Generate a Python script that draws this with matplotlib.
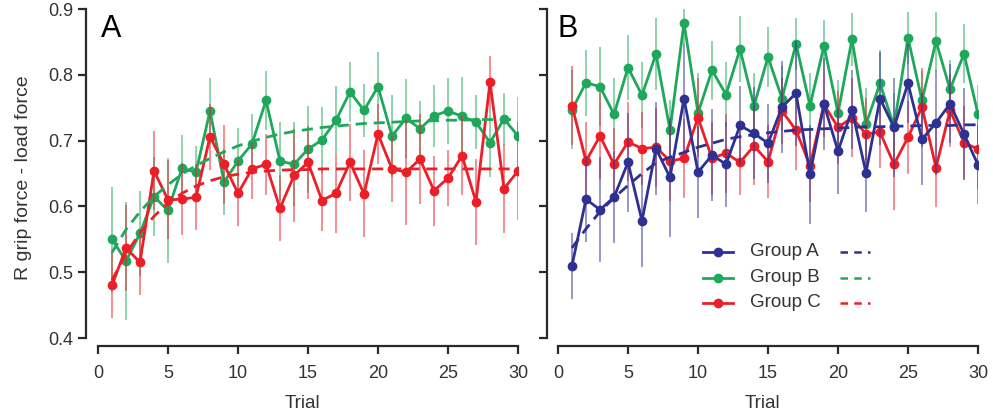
import matplotlib
matplotlib.use("Agg")
import matplotlib.pyplot as plt
import numpy as np

plt.rcParams["font.family"] = ["Liberation Sans", "DejaVu Sans"]

trials = np.arange(1, 31)

# colours
BLUE = "#2e3192"
GREEN = "#1fa85c"
RED = "#ec1f28"

# ---- panel A ----
a_green = [0.550, 0.517, 0.559, 0.615, 0.594, 0.658, 0.652, 0.745, 0.637, 0.669,
           0.695, 0.761, 0.669, 0.664, 0.687, 0.701, 0.731, 0.774, 0.746, 0.782,
           0.707, 0.734, 0.718, 0.738, 0.745, 0.737, 0.728, 0.697, 0.733, 0.707]
a_green_err = [0.080, 0.090, 0.065, 0.060, 0.080, 0.050, 0.040, 0.050, 0.050, 0.050,
               0.045, 0.045, 0.060, 0.064, 0.066, 0.050, 0.052, 0.046, 0.040, 0.053,
               0.063, 0.060, 0.042, 0.047, 0.050, 0.060, 0.041, 0.053, 0.040, 0.060]
a_red = [0.480, 0.537, 0.515, 0.654, 0.610, 0.611, 0.614, 0.706, 0.664, 0.620,
         0.657, 0.664, 0.597, 0.647, 0.667, 0.609, 0.620, 0.667, 0.619, 0.710,
         0.657, 0.652, 0.672, 0.624, 0.643, 0.677, 0.607, 0.789, 0.627, 0.654]
a_red_err = [0.050, 0.065, 0.050, 0.060, 0.060, 0.055, 0.050, 0.050, 0.060, 0.050,
             0.045, 0.046, 0.050, 0.070, 0.055, 0.047, 0.060, 0.058, 0.066, 0.045,
             0.050, 0.080, 0.068, 0.053, 0.043, 0.060, 0.065, 0.040, 0.068, 0.074]
a_green_fit = [0.530, 0.565, 0.592, 0.615, 0.633, 0.649, 0.662, 0.673, 0.683, 0.692,
               0.699, 0.705, 0.710, 0.714, 0.717, 0.720, 0.722, 0.724, 0.726, 0.727,
               0.728, 0.729, 0.730, 0.730, 0.731, 0.731, 0.732, 0.732, 0.732, 0.732]
a_red_fit = [0.488, 0.528, 0.560, 0.585, 0.605, 0.620, 0.631, 0.639, 0.645, 0.649,
             0.652, 0.654, 0.655, 0.656, 0.656, 0.657, 0.657, 0.657, 0.657, 0.657,
             0.657, 0.657, 0.657, 0.657, 0.657, 0.657, 0.657, 0.657, 0.657, 0.657]

# ---- panel B ----
b_blue = [0.510, 0.611, 0.595, 0.614, 0.667, 0.578, 0.688, 0.644, 0.764, 0.652,
          0.678, 0.664, 0.723, 0.711, 0.696, 0.751, 0.772, 0.649, 0.755, 0.684,
          0.747, 0.651, 0.764, 0.720, 0.787, 0.702, 0.727, 0.756, 0.710, 0.663]
b_blue_err = [0.050, 0.065, 0.080, 0.070, 0.075, 0.070, 0.070, 0.090, 0.085, 0.070,
              0.070, 0.065, 0.060, 0.070, 0.060, 0.070, 0.080, 0.075, 0.070, 0.065,
              0.060, 0.060, 0.070, 0.075, 0.060, 0.070, 0.080, 0.060, 0.070, 0.060]
b_green = [0.747, 0.788, 0.782, 0.740, 0.811, 0.769, 0.832, 0.716, 0.879, 0.742,
           0.807, 0.770, 0.839, 0.753, 0.827, 0.764, 0.847, 0.753, 0.844, 0.742,
           0.854, 0.725, 0.787, 0.722, 0.856, 0.761, 0.851, 0.778, 0.832, 0.740]
b_green_err = [0.060, 0.050, 0.060, 0.055, 0.050, 0.050, 0.055, 0.045, 0.030, 0.060,
               0.045, 0.050, 0.050, 0.050, 0.045, 0.050, 0.040, 0.050, 0.040, 0.050,
               0.040, 0.055, 0.050, 0.050, 0.040, 0.045, 0.045, 0.045, 0.045, 0.045]
b_red = [0.753, 0.669, 0.707, 0.664, 0.698, 0.688, 0.690, 0.669, 0.673, 0.735,
         0.673, 0.681, 0.667, 0.692, 0.668, 0.745, 0.716, 0.662, 0.755, 0.720,
         0.735, 0.710, 0.713, 0.664, 0.705, 0.751, 0.659, 0.746, 0.697, 0.687]
b_red_err = [0.060, 0.060, 0.065, 0.055, 0.060, 0.055, 0.060, 0.060, 0.060, 0.060,
             0.055, 0.060, 0.050, 0.060, 0.055, 0.050, 0.060, 0.055, 0.050, 0.055,
             0.060, 0.055, 0.055, 0.070, 0.055, 0.060, 0.060, 0.055, 0.055, 0.060]
b_blue_fit = [0.537, 0.566, 0.592, 0.613, 0.632, 0.650, 0.666, 0.675, 0.682, 0.690,
              0.696, 0.702, 0.706, 0.709, 0.712, 0.714, 0.716, 0.717, 0.718, 0.719,
              0.720, 0.721, 0.721, 0.722, 0.722, 0.723, 0.723, 0.723, 0.724, 0.724]

group_labels = ["Group A", "Group B", "Group C"]
group_colors = [BLUE, GREEN, RED]

W, H = 993, 412
fig = plt.figure(figsize=(W / 100, H / 100), dpi=100)


def make_axes(px_left, px_right, px_zero):
    ax = fig.add_axes([px_left / W, (H - 346) / H, (px_right - px_left) / W, 337 / H])
    ax.set_xlim(-(px_zero - px_left) / 14.0, 30)
    ax.set_ylim(0.4 - 8 / 662.0, 0.9)
    for s in ["top", "right"]:
        ax.spines[s].set_visible(False)
    for s in ["left", "bottom"]:
        ax.spines[s].set_linewidth(1.6)
        ax.spines[s].set_color("#2a2a2a")
    ax.spines["left"].set_bounds(0.4, 0.9)
    ax.spines["bottom"].set_bounds(0, 30)
    ax.set_xticks([0, 5, 10, 15, 20, 25, 30])
    ax.set_yticks([0.4, 0.5, 0.6, 0.7, 0.8, 0.9])
    ax.tick_params(length=6, width=1.6, color="#2a2a2a", labelsize=13,
                   labelcolor="#333333", pad=3)
    ax.tick_params(axis="x", pad=8)
    ax.set_xlabel("Trial", fontsize=13.5, color="#333333", labelpad=9)
    return ax


def series(ax, y, err, color):
    ax.errorbar(trials, y, yerr=err, fmt="none", ecolor=color, elinewidth=1.4,
                alpha=0.5, capsize=0)
    ax.plot(trials, y, "-o", color=color, lw=2.0, ms=6)


axA = make_axes(86, 518, 98)
series(axA, a_green, a_green_err, GREEN)
series(axA, a_red, a_red_err, RED)
axA.plot(trials, a_green_fit, "--", color=GREEN, lw=2.0, dashes=(4, 2.5))
axA.plot(trials, a_red_fit, "--", color=RED, lw=2.0, dashes=(4, 2.5))
axA.set_yticklabels(["0.4", "0.5", "0.6", "0.7", "0.8", "0.9"])
axA.set_ylabel("R grip force - load force", fontsize=14, color="#333333", labelpad=12)
axA.text(0.035, 0.985, "A", transform=axA.transAxes, fontsize=22, va="top", ha="left")

axB = make_axes(547, 978, 558)
series(axB, b_green, b_green_err, GREEN)
series(axB, b_red, b_red_err, RED)
series(axB, b_blue, b_blue_err, BLUE)
axB.plot(trials, b_blue_fit, "--", color=BLUE, lw=2.0, dashes=(4, 2.5))
axB.set_yticklabels([])
axB.text(0.025, 0.985, "B", transform=axB.transAxes, fontsize=22, va="top", ha="left")

# legend drawn as a small table: solid line + marker, label, dashed sample
rows_y = [0.279, 0.202, 0.128]
for yy, lab, col in zip(rows_y, group_labels, group_colors):
    axB.plot([0.362, 0.432], [yy, yy], "-", color=col, lw=2.0, transform=axB.transAxes)
    axB.plot([0.397], [yy], "o", color=col, ms=6, transform=axB.transAxes)
    axB.text(0.472, yy, lab, transform=axB.transAxes, fontsize=13.5,
             color="#333333", va="center", ha="left")
    axB.plot([0.680, 0.749], [yy, yy], "--", color=col, lw=1.8, dashes=(3, 2.5),
             transform=axB.transAxes)

fig.savefig("out.png", dpi=100)
